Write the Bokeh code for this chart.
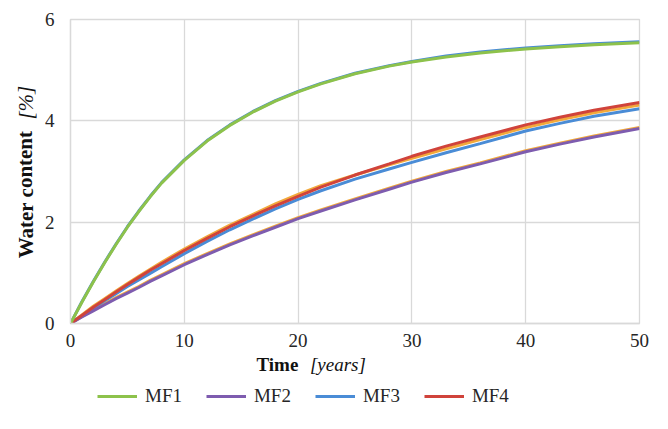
from bokeh.plotting import figure
from bokeh.models import Range1d, FixedTicker, Legend, LegendItem
from bokeh.layouts import row, column
from bokeh.core.properties import value
from bokeh.embed import file_html
from bokeh.resources import INLINE

years = [0, 1, 2, 3, 4, 5, 6, 7, 8, 10, 12, 14, 16, 18, 20, 22, 25, 28, 30, 33, 36, 40, 43, 46, 50]
mf1 = [0, 0.42, 0.82, 1.20, 1.56, 1.90, 2.21, 2.50, 2.77, 3.22, 3.60, 3.91, 4.17, 4.39, 4.57, 4.73, 4.93, 5.08, 5.16, 5.26, 5.34, 5.42, 5.46, 5.50, 5.54]
mf1_alt = [0, 0.43, 0.83, 1.21, 1.57, 1.91, 2.22, 2.51, 2.78, 3.23, 3.61, 3.92, 4.18, 4.40, 4.58, 4.74, 4.94, 5.09, 5.17, 5.28, 5.36, 5.44, 5.48, 5.52, 5.56]
mf2 = [0, 0.13, 0.25, 0.37, 0.49, 0.60, 0.71, 0.83, 0.94, 1.16, 1.36, 1.55, 1.73, 1.90, 2.07, 2.22, 2.44, 2.65, 2.79, 2.98, 3.15, 3.39, 3.54, 3.68, 3.85]
mf2_alt = [0, 0.14, 0.27, 0.39, 0.51, 0.62, 0.73, 0.85, 0.96, 1.18, 1.38, 1.57, 1.75, 1.92, 2.09, 2.24, 2.46, 2.67, 2.81, 3.00, 3.17, 3.41, 3.56, 3.70, 3.87]
mf3 = [0, 0.15, 0.30, 0.45, 0.59, 0.73, 0.86, 0.99, 1.12, 1.38, 1.62, 1.85, 2.06, 2.26, 2.45, 2.62, 2.85, 3.05, 3.18, 3.37, 3.55, 3.80, 3.95, 4.09, 4.24]
mf4 = [0, 0.16, 0.32, 0.47, 0.62, 0.77, 0.91, 1.05, 1.18, 1.44, 1.68, 1.91, 2.12, 2.32, 2.51, 2.69, 2.93, 3.15, 3.30, 3.50, 3.68, 3.92, 4.07, 4.21, 4.36]
mf4_alt = [0, 0.17, 0.34, 0.49, 0.64, 0.79, 0.93, 1.07, 1.21, 1.47, 1.71, 1.94, 2.15, 2.36, 2.55, 2.72, 2.93, 3.13, 3.26, 3.45, 3.63, 3.87, 4.02, 4.16, 4.31]

series_names = ["MF1", "MF2", "MF3", "MF4"]
x_ticks = [0, 10, 20, 30, 40, 50]
y_ticks = [0, 2, 4, 6]
x_title = ["Time", "[years]"]
y_title = ["Water content", "[%]"]

GREEN = "#8DC24B"
PURPLE = "#7E5CAF"
BLUE = "#4A8CD6"
RED = "#D0433B"
ORANGE = "#F2A93B"
SERIF = "Liberation Serif"
TXT = "#111111"

xr = Range1d(0, 50)
yr = Range1d(0, 6)

# ---- main plot ----
p = figure(width=613, height=349, output_backend="svg", toolbar_location=None,
           x_range=xr, y_range=yr,
           min_border_left=31, min_border_right=13, min_border_top=19, min_border_bottom=24)
p.outline_line_color = "#D9D9D9"
p.outline_line_width = 1.3
for ax in (p.xaxis[0], p.yaxis[0]):
    ax.axis_line_color = "#D9D9D9"
    ax.axis_line_width = 1.3
    ax.major_tick_line_color = None
    ax.minor_tick_line_color = None
    ax.major_label_text_font = SERIF
    ax.major_label_text_font_size = "19px"
    ax.major_label_text_color = "#262626"
p.xaxis[0].ticker = FixedTicker(ticks=x_ticks)
p.yaxis[0].ticker = FixedTicker(ticks=y_ticks)
p.xaxis[0].major_label_standoff = 4
p.yaxis[0].major_label_standoff = 10
p.xgrid[0].ticker = FixedTicker(ticks=x_ticks)
p.ygrid[0].ticker = FixedTicker(ticks=y_ticks)
p.xgrid.grid_line_color = "#D9D9D9"
p.ygrid.grid_line_color = "#D9D9D9"
p.xgrid.grid_line_width = 1.3
p.ygrid.grid_line_width = 1.3

W = 3
p.line(years, mf4_alt, line_color=ORANGE, line_width=W)
p.line(years, mf2_alt, line_color=ORANGE, line_width=W)
p.line(years, mf1_alt, line_color=BLUE, line_width=W)
p.line(years, mf3, line_color=BLUE, line_width=W)
p.line(years, mf2, line_color=PURPLE, line_width=W)
p.line(years, mf4, line_color=RED, line_width=W)
p.line(years, mf1, line_color=GREEN, line_width=W)

# ---- left title strip ----
yl = figure(width=39, height=349, output_backend="svg", toolbar_location=None,
            x_range=Range1d(0, 39), y_range=yr, x_axis_type=None, y_axis_type=None,
            min_border_left=0, min_border_right=0, min_border_top=19, min_border_bottom=24)
yl.outline_line_color = None
yl.grid.visible = False
yl.text(x=[25], y=[2.57], text=[y_title[0]], angle=1.5708, text_font=value(SERIF),
        text_font_size="21px", text_font_style="bold", text_align="center",
        text_baseline="middle", text_color=TXT)
yl.text(x=[25], y=[4.37], text=[y_title[1]], angle=1.5708, text_font=value(SERIF),
        text_font_size="21px", text_font_style="italic", text_align="center",
        text_baseline="middle", text_color=TXT)

# ---- bottom strip: x title + legend ----
b = figure(width=613, height=64, output_backend="svg", toolbar_location=None,
           x_range=xr, y_range=Range1d(0, 64), x_axis_type=None, y_axis_type=None,
           min_border_left=31, min_border_right=13, min_border_top=0, min_border_bottom=0)
b.outline_line_color = None
b.grid.visible = False
b.text(x=[18.18], y=[49], text=[x_title[0]], text_font=value(SERIF), text_font_size="19px",
       text_font_style="bold", text_align="center", text_baseline="middle", text_color=TXT)
b.text(x=[23.5], y=[49], text=[x_title[1]], text_font=value(SERIF), text_font_size="19px",
       text_font_style="italic", text_align="center", text_baseline="middle", text_color=TXT)

nan = float("nan")
items = []
for name, col in zip(series_names, [GREEN, PURPLE, BLUE, RED]):
    r = b.line(x=[nan], y=[nan], line_color=col, line_width=W)
    items.append(LegendItem(label=name, renderers=[r]))
legend = Legend(items=items, orientation="horizontal", location=(27, 6),
                label_text_font=SERIF, label_text_font_size="19px", label_text_color="#262626",
                glyph_width=40, spacing=24, border_line_color=None, background_fill_alpha=0,
                margin=0, padding=4, label_standoff=8)
b.add_layout(legend)

layout = row(yl, column(p, b))
open("out.html", "w").write(file_html(layout, INLINE))
